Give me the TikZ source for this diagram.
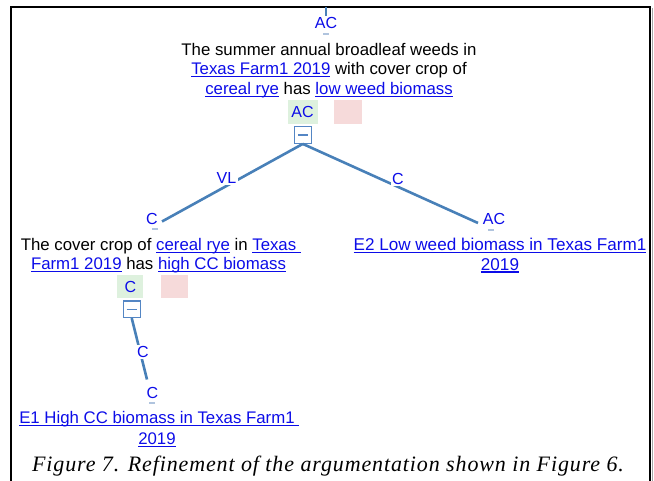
\documentclass[tikz,border=0pt]{standalone}
\usepackage{fontspec}
\setmainfont{Liberation Sans}
\newfontfamily\capfont[LetterSpace=4]{Liberation Serif}
\definecolor{lb}{RGB}{12,12,232}
\definecolor{lineblue}{RGB}{72,128,184}
\definecolor{togblue}{RGB}{84,134,196}
\definecolor{greenbox}{RGB}{222,241,222}
\definecolor{pinkbox}{RGB}{246,218,218}
\definecolor{tickblue}{RGB}{176,196,222}
% link: blue, underlined
\newcommand\lk[1]{{\color{lb}\setbox0\hbox{#1}\rlap{\rule[-2.6pt]{\wd0}{1.2pt}}\box0}}
% link whose underline runs on over a trailing space
\newcommand\lks[1]{{\color{lb}\setbox0\hbox{#1\ }\rlap{\rule[-2.6pt]{\wd0}{1.2pt}}\hbox{#1}}}
\begin{document}
\begin{tikzpicture}[x=1pt,y=-1pt,
  every node/.style={inner sep=0pt},
  txt/.style={font=\fontsize{16.8}{19.7}\selectfont, align=center, anchor=north},
  lbl/.style={text=lb, font=\fontsize{16}{16}\selectfont, inner sep=1.5pt},
  midlbl/.style={lbl, fill=white},
  conn/.style={draw=lineblue, line width=2.6pt},
  toggle/.style={draw=togblue, line width=1.3pt, fill=white, minimum width=17pt, minimum height=16.5pt},
  gbox/.style={fill=greenbox, text=lb, font=\fontsize{16}{16}\selectfont, minimum height=24pt},
  pbox/.style={fill=pinkbox, minimum height=24pt},
  tick/.style={fill=tickblue, minimum width=6pt, minimum height=2pt}]
\useasboundingbox (0,0) rectangle (654,481);
% frame
\draw[line width=2.2pt] (11,481) -- (11,7) -- (650,7) -- (650,481);
\draw[black!35, line width=1.4pt] (652.4,8) -- (652.4,481);

% top claim
\node[txt] (claim) at (329,42.8) {The summer annual broadleaf weeds in\\
  \lk{Texas Farm1 2019} with cover crop of\\
  \lk{cereal rye} has \lk{low weed biomass}};
\node[gbox, minimum width=30pt] (g1) at (302.5,112.2) {AC};
\node[pbox, minimum width=28pt] (p1) at (347.5,112.2) {};
\node[toggle] (t1) at (302.8,135) {};
\draw[togblue, line width=1.3pt] ([xshift=-5pt]t1.center) -- ([xshift=5pt]t1.center);

% incoming connector at top
\coordinate (topin) at (326,7.5);
\coordinate (topend) at (326,16);
\draw[conn] (topin) -- (topend);
\node[midlbl] (acTop) at (326,23) {AC};
\node[tick] (tk0) at (326,34) {};

% left sub-claim
\node[txt] (sub) at (158.5,237.8) {The cover crop of \lk{cereal rye} in \lks{Texas}\\
  \lk{Farm1 2019} has \lk{high CC biomass}};
\node[gbox, minimum width=26pt, minimum height=23.5pt] (g2) at (130.3,286.7) {C};
\node[pbox, minimum width=27pt, minimum height=23.5pt] (p2) at (174.7,286.7) {};
\node[toggle] (t2) at (131.7,309.2) {};
\draw[togblue, line width=1.3pt] ([xshift=-5pt]t2.center) -- ([xshift=5pt]t2.center);

% right evidence
\node[txt, font=\fontsize{17.1}{19.7}\selectfont] (e2) at (500,237.8) {\lk{E2 Low weed biomass in Texas Farm1}\\ \lk{2019}};

% bottom evidence
\node[txt, font=\fontsize{16.8}{21}\selectfont] (e1) at (157,410.8) {\lks{E1 High CC biomass in Texas Farm1}\\ \lk{2019}};

% connectors from claim toggle
\coordinate (lend) at (162,221.5);
\coordinate (rend) at (478,223);
\draw[conn] (t1.south) -- (lend);
\draw[conn] (t1.south) -- (rend);
\node[midlbl] (vl) at (226.5,178) {VL};
\node[lbl] (cL) at (152,219) {C};
\node[tick] (tk1) at (155,229.5) {};
\node[midlbl] (cR) at (398,178.5) {C};
\node[lbl] (acR) at (494,219) {AC};
\node[tick] (tk2) at (491,230) {};

% connector from sub-claim toggle
\coordinate (bend) at (147,379.5);
\draw[conn] (t2.south) -- (bend);
\node[midlbl] (cM) at (143,352) {C};
\node[lbl] (cB) at (152.5,392.5) {C};
\node[tick] (tk3) at (152,403) {};

% caption
\node[font=\capfont\itshape\fontsize{22}{25}\selectfont, anchor=base] (cap) at (328,471.7)
  {Figure 7. Refinement of the argumentation shown in Figure 6.};
\end{tikzpicture}
\end{document}
